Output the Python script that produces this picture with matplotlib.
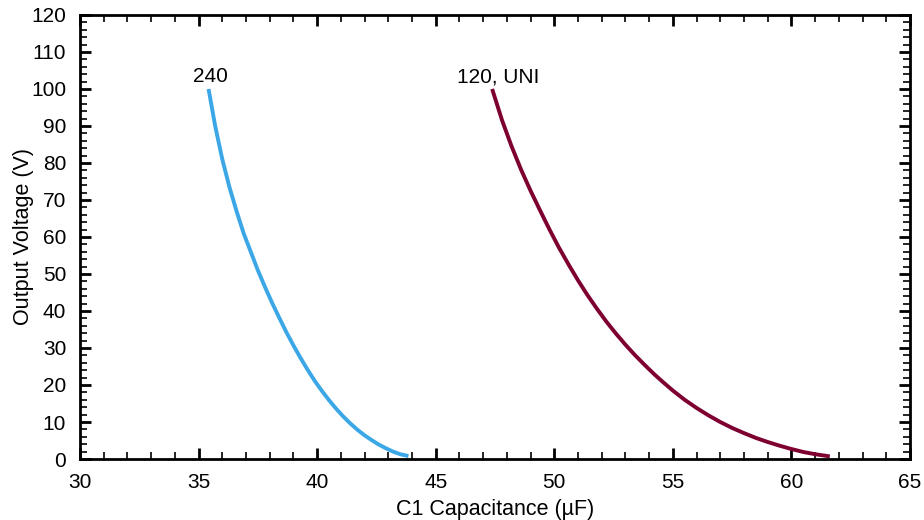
import matplotlib.pyplot as plt
from matplotlib.ticker import MultipleLocator

plt.rcParams['font.family'] = ['Liberation Sans', 'DejaVu Sans']

# 240 V curve
cap_240 = [35.42, 35.7, 36.0, 36.3, 36.6, 36.9, 37.2, 37.5, 37.8, 38.1,
           38.4, 38.7, 39.0, 39.3, 39.6, 39.9, 40.2, 40.5, 40.8, 41.1,
           41.4, 41.7, 42.0, 42.3, 42.6, 42.9, 43.2, 43.5, 43.85]
volt_240 = [100.0, 90.0, 81.0, 73.5, 67.0, 61.0, 56.0, 51.0, 46.5, 42.2,
            38.2, 34.3, 30.7, 27.3, 24.1, 21.1, 18.4, 15.9, 13.6, 11.5,
            9.6, 7.9, 6.4, 5.1, 3.9, 2.9, 2.0, 1.3, 0.8]

# 120 V, universal curve
cap_120 = [47.38, 47.8, 48.2, 48.6, 49.0, 49.4, 49.8, 50.2, 50.6, 51.0,
           51.4, 51.8, 52.2, 52.6, 53.0, 53.4, 53.8, 54.2, 54.6, 55.0,
           55.5, 56.0, 56.5, 57.0, 57.5, 58.0, 58.5, 59.0, 59.5, 60.0,
           60.5, 61.0, 61.62]
volt_120 = [100.0, 91.5, 84.5, 78.2, 72.5, 67.2, 62.0, 57.1, 52.6, 48.3,
            44.3, 40.6, 37.1, 33.9, 30.9, 28.1, 25.5, 23.0, 20.7, 18.5,
            16.0, 13.8, 11.8, 10.0, 8.4, 7.0, 5.7, 4.6, 3.6, 2.7,
            1.9, 1.3, 0.7]

fig = plt.figure(figsize=(9.24, 5.2), dpi=100)
ax = fig.add_axes([0.0866, 0.1173, 0.8982, 0.8539])

ax.plot(cap_240, volt_240, color='#3ba7e6', linewidth=2.8,
        solid_capstyle='butt', solid_joinstyle='round')
ax.plot(cap_120, volt_120, color='#7d0031', linewidth=2.8,
        solid_capstyle='butt', solid_joinstyle='round')

ax.text(35.51, 101.8, '240', ha='center', va='baseline', fontsize=15)
ax.text(47.64, 101.8, '120, UNI', ha='center', va='baseline', fontsize=15)

ax.set_xlim(30, 65)
ax.set_ylim(0, 120)
ax.xaxis.set_major_locator(MultipleLocator(5))
ax.xaxis.set_minor_locator(MultipleLocator(1))
ax.yaxis.set_major_locator(MultipleLocator(10))
ax.yaxis.set_minor_locator(MultipleLocator(2))

for s in ax.spines.values():
    s.set_linewidth(2)
ax.tick_params(which='both', direction='in', top=True, right=True, labelsize=15)
ax.tick_params(which='major', length=8, width=2, pad=10)
ax.tick_params(which='minor', length=5, width=1.2)

ax.set_xlabel('C1 Capacitance (µF)', fontsize=15.5, labelpad=5)
ax.set_ylabel('Output Voltage (V)', fontsize=15.5, labelpad=-2)

plt.savefig('out.png', dpi=100)
